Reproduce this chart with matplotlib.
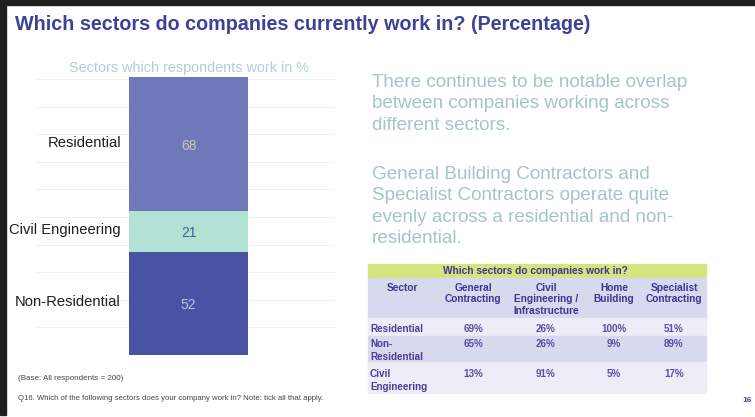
import numpy as np
import matplotlib
matplotlib.use("Agg")
import matplotlib.pyplot as plt
from matplotlib.patches import Rectangle

plt.rcParams['font.family'] = ['Liberation Sans', 'DejaVu Sans']

# ---------------- data ----------------
sectors = ["Non-Residential", "Civil Engineering", "Residential"]   # stacked bottom -> top
sector_pct = [52, 21, 68]

table_rows = ["Residential", "Non-\nResidential", "Civil\nEngineering"]
table_cols = ["General\nContracting", "Civil\nEngineering /\nInfrastructure",
              "Home\nBuilding", "Specialist\nContracting"]
general_contracting = [69, 65, 13]
civil_engineering = [26, 26, 91]
home_building = [100, 9, 5]
specialist_contracting = [51, 89, 17]

title = "Which sectors do companies currently work in? (Percentage)"
chart_subtitle = "Sectors which respondents work in %"
table_title = "Which sectors do companies work in?"
para1 = ["There continues to be notable overlap",
         "between companies working across",
         "different sectors."]
para2 = ["General Building Contractors and",
         "Specialist Contractors operate quite",
         "evenly across a residential and non-",
         "residential."]
base_note = "(Base: All respondents = 200)"
question_note = "Q16. Which of the following sectors does your company work in? Note: tick all that apply."
page_no = "16"

# ---------------- figure ----------------
W, H = 755, 417
fig = plt.figure(figsize=(W / 100, H / 100), dpi=100)
fig.patch.set_facecolor("white")

bg = fig.add_axes([0, 0, 1, 1])
bg.set_xlim(0, W)
bg.set_ylim(H, 0)
bg.axis("off")

# slide frame
bg.add_patch(Rectangle((0, 0), W, 5, color="#1f1f1f", zorder=0))
bg.add_patch(Rectangle((0, 0), 6, 415, color="#1f1f1f", zorder=0))

# title
bg.text(15, 22, title, fontsize=14.2, fontweight="bold", color="#3d4197",
        ha="left", va="center_baseline")

# ---------------- stacked bar ----------------
ax_l, ax_r, ax_t, ax_b = 35, 335, 77, 355
ax = fig.add_axes([ax_l / W, (H - ax_b) / H, (ax_r - ax_l) / W, (ax_b - ax_t) / H])
total = sum(sector_pct)
ax.set_ylim(0, total)
ax.set_xlim(0, 1)
for y in np.arange(0, total + 1, 14):
    ax.axhline(y, color="#f0f0f0", lw=0.8, zorder=0)
for s in ax.spines.values():
    s.set_visible(False)
ax.set_xticks([])
ax.set_yticks([])
ax.patch.set_alpha(0)

bar_colors = ["#4953a3", "#b3e2d5", "#6f79ba"]
value_colors = ["#bcc1e6", "#3c62a0", "#cbc9aa"]
bar_x = (188.5 - ax_l) / (ax_r - ax_l)
bar_w = 119 / (ax_r - ax_l)
label_x = (121 - ax_l) / (ax_r - ax_l)
bottoms = np.concatenate([[0], np.cumsum(sector_pct)[:-1]])
for name, v, b, c, vc in zip(sectors, sector_pct, bottoms, bar_colors, value_colors):
    ax.bar(bar_x, v, bottom=b, width=bar_w, color=c, zorder=2)
    ax.text(bar_x, b + v / 2, str(v), color=vc, fontsize=10,
            ha="center", va="center_baseline", zorder=3)
    ax.text(label_x, b + v / 2 + 1.5, name, color="#1e1e1e", fontsize=10.6,
            ha="right", va="center_baseline", zorder=3)

bg.text(189, 66, chart_subtitle, color="#b3cfd2", fontsize=10.4,
        ha="center", va="center_baseline")

# notes
bg.text(18, 378, base_note, color="#444444", fontsize=5.8, ha="left", va="center_baseline")
bg.text(18, 398, question_note, color="#444444", fontsize=5.6, ha="left", va="center_baseline")

# ---------------- right text ----------------
for i, line in enumerate(para1):
    bg.text(372, 80 + i * 21.5, line, color="#a6c4c7", fontsize=13.6,
            ha="left", va="center_baseline")
for i, line in enumerate(para2):
    bg.text(372, 172 + i * 21.5, line, color="#a6c4c7", fontsize=13.6,
            ha="left", va="center_baseline")

# ---------------- table ----------------
tx0, tx1 = 368, 706
band_rows = [(264, 278, "#d5e47e"), (278, 318, "#d7d9ee"), (318, 336, "#ecedf6"),
             (336, 362, "#d7d9ee"), (362, 393, "#ecedf6")]
for y0, y1, c in band_rows:
    bg.add_patch(Rectangle((tx0, y0), tx1 - tx0, y1 - y0, color=c, zorder=0))

tcol = "#3b3790"
vcol = "#5a4ea6"
bg.text(535, 270.5, table_title, color=tcol, fontsize=7.3, fontweight="bold",
        ha="center", va="center_baseline")


def multiline(x, y, txt, dy, **kw):
    for k, ln in enumerate(txt.split("\n")):
        bg.text(x, y + k * dy, ln, va="center_baseline", **kw)


multiline(402, 287, "Sector", 11.5, color=tcol, fontsize=7.3, fontweight="bold", ha="center")
col_x = [473, 546, 614, 674]
for x, name in zip(col_x, table_cols):
    multiline(x, 287, name, 11.5, color=tcol, fontsize=7.3, fontweight="bold", ha="center")

row_y = [328, 343, 373]
for y, name in zip(row_y, table_rows):
    multiline(370, y, name, 12.5, color="#4a3f98", fontsize=7.1, fontweight="bold", ha="left")

table_vals = [general_contracting, civil_engineering, home_building, specialist_contracting]
for x, col in zip(col_x, table_vals):
    for y, v in zip(row_y, col):
        bg.text(x, y, f"{v}%", color=vcol, fontsize=7.1, fontweight="bold",
                ha="center", va="center_baseline")

bg.text(747, 400, page_no, color="#4a4090", fontsize=6, fontweight="bold",
        ha="center", va="center_baseline")

fig.savefig("out.png", dpi=100, facecolor="white")
